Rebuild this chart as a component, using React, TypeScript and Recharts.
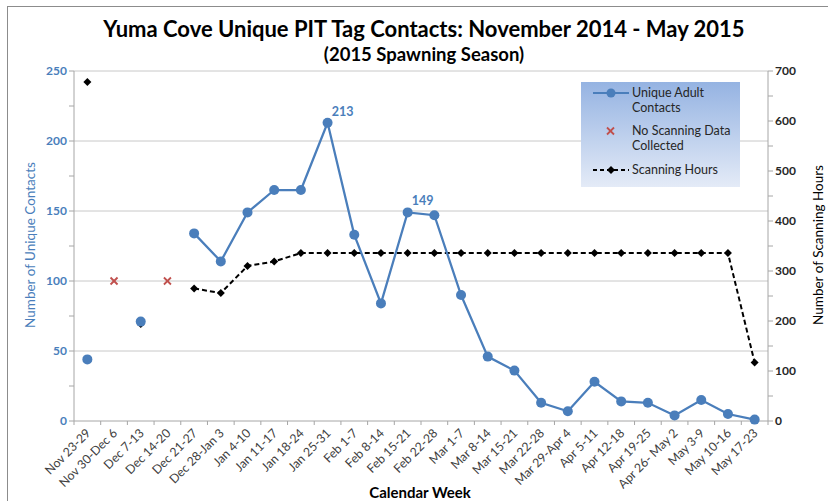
import React from 'react';
import { ComposedChart, Line, XAxis, YAxis, ReferenceLine } from 'recharts';

const weeks = [
  'Nov 23-29', 'Nov 30-Dec 6', 'Dec 7-13', 'Dec 14-20', 'Dec 21-27', 'Dec 28-Jan 3',
  'Jan 4-10', 'Jan 11-17', 'Jan 18-24', 'Jan 25-31', 'Feb 1-7', 'Feb 8-14', 'Feb 15-21',
  'Feb 22-28', 'Mar 1-7', 'Mar 8-14', 'Mar 15-21', 'Mar 22-28', 'Mar 29-Apr 4', 'Apr 5-11',
  'Apr 12-18', 'Apr 19-25', 'Apr 26- May 2', 'May 3-9', 'May 10-16', 'May 17-23',
];
const uniqueContacts = [44, null, 71, null, 134, 114, 149, 165, 165, 213, 133, 84, 149, 147, 90, 46, 36, 13, 7, 28, 14, 13, 4, 15, 5, 1];
const scanningHours = [678, null, 194, null, 265, 256, 310, 319, 336, 336, 336, 336, 336, 336, 336, 336, 336, 336, 336, 336, 336, 336, 336, 336, 336, 117];
const noScanData = [null, 100, null, 100, null, null, null, null, null, null, null, null, null, null, null, null, null, null, null, null, null, null, null, null, null, null];
const labelledWeeks = ['Jan 25-31', 'Feb 15-21'];

const leftTicks = [0, 25, 50, 75, 100, 125, 150, 175, 200, 225, 250];
const leftGrid = [50, 100, 150, 200, 250];
const rightTicks = [0, 50, 100, 150, 200, 250, 300, 350, 400, 450, 500, 550, 600, 650, 700];

const data = weeks.map((week, i) => ({
  week,
  contacts: uniqueContacts[i],
  hours: scanningHours[i],
  noScan: noScanData[i],
}));

const FONT = 'Lato, "Open Sans", sans-serif';
const BLUE = '#4a7ebb';
const RED = '#c0504d';
const AXIS = '#a6a6a6';
const PLOT_W = 694;
const BAND = PLOT_W / weeks.length;

const WeekTick = (props: any) => {
  const { x, y, payload, index } = props;
  const tx = x + 4;
  const ty = y + 13;
  return (
    <g>
      <line x1={x - BAND / 2} x2={x - BAND / 2} y1={y} y2={y + 4} stroke={AXIS} />
      {index === weeks.length - 1 && (
        <line x1={x + BAND / 2} x2={x + BAND / 2} y1={y} y2={y + 4} stroke={AXIS} />
      )}
      <text x={tx} y={ty} textAnchor="end" fontSize={12.3} fill="#404040" fontFamily={FONT}
        transform={`rotate(-45, ${tx}, ${ty})`}>
        {payload.value}
      </text>
    </g>
  );
};

const Diamond = (props: any) => {
  const { cx, cy, value } = props;
  if (value == null || cx == null) return null;
  const s = 4;
  return <polygon points={`${cx},${cy - s} ${cx + s},${cy} ${cx},${cy + s} ${cx - s},${cy}`} fill="#000" />;
};

const Cross = (props: any) => {
  const { cx, cy, value } = props;
  if (value == null || cx == null) return null;
  const s = 3.5;
  return (
    <g stroke={RED} strokeWidth={1.8}>
      <line x1={cx - s} y1={cy - s} x2={cx + s} y2={cy + s} />
      <line x1={cx - s} y1={cy + s} x2={cx + s} y2={cy - s} />
    </g>
  );
};

const PeakLabel = (props: any) => {
  const { x, y, value, index } = props;
  if (!labelledWeeks.includes(weeks[index])) return null;
  return (
    <text x={x + 15} y={y - 7} textAnchor="middle" fontSize={12.5} fontWeight="bold" fill={BLUE} fontFamily={FONT}>
      {value}
    </text>
  );
};

const LegendBox = () => (
  <div style={{
    position: 'absolute', left: 581, top: 82, width: 159, height: 105, fontFamily: FONT, fontSize: 12.5, color: '#262626',
    background: 'linear-gradient(#95b3e2, #e4ebf7)', lineHeight: '15px',
  }}>
    <svg width={159} height={105} style={{ position: 'absolute', left: 0, top: 0 }}>
      <line x1={12} x2={48} y1={11} y2={11} stroke={BLUE} strokeWidth={2} />
      <circle cx={30} cy={11} r={4.5} fill={BLUE} />
      <g stroke={RED} strokeWidth={1.8}>
        <line x1={26} y1={45.5} x2={33} y2={52.5} />
        <line x1={26} y1={52.5} x2={33} y2={45.5} />
      </g>
      <line x1={12} x2={48} y1={88} y2={88} stroke="#000" strokeWidth={2} strokeDasharray="4 3" />
      <polygon points="30,84 34,88 30,92 26,88" fill="#000" />
    </svg>
    <div style={{ position: 'absolute', left: 51, top: 3 }}>Unique Adult<br />Contacts</div>
    <div style={{ position: 'absolute', left: 51, top: 41 }}>No Scanning Data<br />Collected</div>
    <div style={{ position: 'absolute', left: 51, top: 80 }}>Scanning Hours</div>
  </div>
);

export default function App() {
  return (
    <div style={{ position: 'absolute', left: 0, top: 0, width: 828, height: 501, background: '#fff', fontFamily: FONT }}>
      <div style={{ position: 'absolute', left: 7, top: 6, width: 821, height: 495, borderTop: '1px solid #8c8c8c', borderLeft: '1px solid #8c8c8c' }} />
      <div style={{ position: 'absolute', left: 0, width: 848, top: 15, textAlign: 'center', fontWeight: 'bold', fontSize: 22, color: '#000' }}>
        Yuma Cove Unique PIT Tag Contacts: November 2014 - May 2015
      </div>
      <div style={{ position: 'absolute', left: 0, width: 848, top: 43, textAlign: 'center', fontWeight: 'bold', fontSize: 18.5, color: '#000' }}>
        (2015 Spawning Season)
      </div>
      <div style={{ position: 'absolute', left: 0, width: 840, top: 483, textAlign: 'center', fontWeight: 'bold', fontSize: 15, color: '#000' }}>
        Calendar Week
      </div>
      <div style={{ position: 'absolute', left: 30, top: 245, transform: 'translate(-50%, -50%) rotate(-90deg)', whiteSpace: 'nowrap', fontSize: 13.5, color: BLUE }}>
        Number of Unique Contacts
      </div>
      <div style={{ position: 'absolute', left: 818, top: 245, transform: 'translate(-50%, -50%) rotate(-90deg)', whiteSpace: 'nowrap', fontSize: 13.5, color: '#000' }}>
        Number of Scanning Hours
      </div>
      <div style={{ position: 'absolute', left: 0, top: 0 }}>
        <ComposedChart width={828} height={501} data={data} margin={{ top: 71, right: 20, left: 34, bottom: 0 }}>
          <XAxis dataKey="week" height={80} interval={0} tickLine={false} tickSize={0} tickMargin={0}
            padding={{ left: BAND / 2, right: BAND / 2 }} stroke={AXIS} tick={<WeekTick />} />
          <YAxis yAxisId="left" domain={[0, 250]} ticks={leftTicks} width={40} stroke={AXIS} tickSize={5}
            tickFormatter={(v: number) => (v % 50 === 0 ? String(v) : '')}
            tick={{ fill: BLUE, fontSize: 12, fontWeight: 'bold', fontFamily: FONT }} />
          <YAxis yAxisId="right" orientation="right" domain={[0, 700]} ticks={rightTicks} width={40} stroke={AXIS} tickSize={5}
            tickFormatter={(v: number) => (v % 100 === 0 ? String(v) : '')}
            tick={{ fill: '#262626', fontSize: 12, fontWeight: 'bold', fontFamily: FONT }} />
          {leftGrid.map((v) => (
            <ReferenceLine key={v} yAxisId="left" y={v} stroke="#c8c8c8" strokeWidth={1} />
          ))}
          <Line yAxisId="right" dataKey="hours" stroke="#000" strokeWidth={2} strokeDasharray="5 3"
            dot={<Diamond />} activeDot={false} isAnimationActive={false} connectNulls={false} />
          <Line yAxisId="left" dataKey="contacts" stroke={BLUE} strokeWidth={2.25}
            dot={{ r: 5, fill: BLUE, stroke: BLUE, strokeWidth: 0 }} activeDot={false} isAnimationActive={false}
            connectNulls={false} label={<PeakLabel />} />
          <Line yAxisId="left" dataKey="noScan" stroke="none" dot={<Cross />} activeDot={false} isAnimationActive={false} />
        </ComposedChart>
      </div>
      <LegendBox />
    </div>
  );
}
